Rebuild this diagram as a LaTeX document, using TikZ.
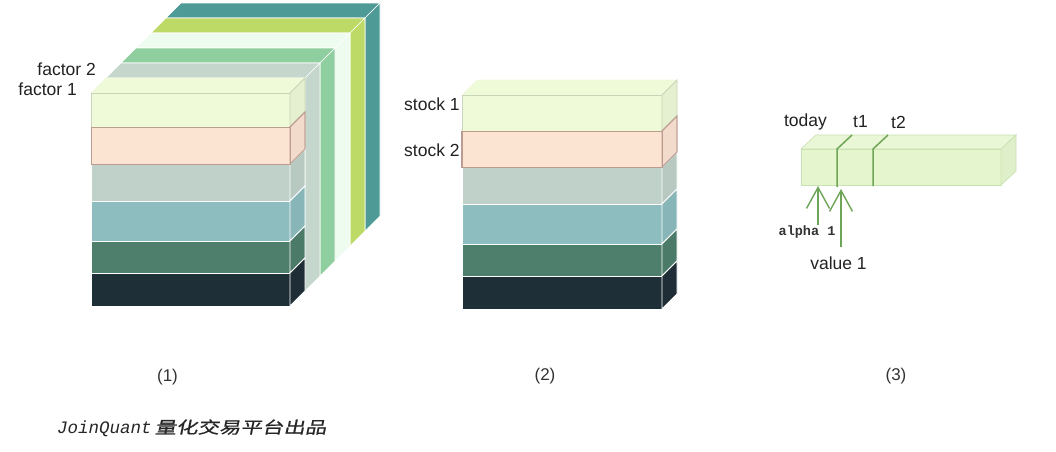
\documentclass[tikz,border=0pt]{standalone}
\usepackage{fontspec}
\setmainfont{Liberation Sans}
\newfontfamily\monofont{Liberation Mono}
\newfontfamily\cjkfont[FakeSlant=0.2,FakeStretch=1.3,FakeBold=0.6]{Noto Sans CJK SC}
\usetikzlibrary{arrows.meta}
\definecolor{cTeal}{HTML}{4E9A97}
\definecolor{cYgreen}{HTML}{BDD966}
\definecolor{cMint}{HTML}{EEFBEF}
\definecolor{cMgreen}{HTML}{8FCE9F}
\definecolor{cGgreen}{HTML}{C5D6CC}
\definecolor{cLight}{HTML}{EEFAD8}
\definecolor{cPeach}{HTML}{FCE4D2}
\definecolor{cPeachB}{HTML}{BC9C90}
\definecolor{cGrey}{HTML}{BFD1C9}
\definecolor{cBlue}{HTML}{8EBDC0}
\definecolor{cDgreen}{HTML}{4E7F6D}
\definecolor{cNavy}{HTML}{1F2F38}
\definecolor{cBar}{HTML}{E5F6CF}
\definecolor{cBarB}{HTML}{C9E2B2}
\definecolor{cLine}{HTML}{6EA557}
\definecolor{cText}{HTML}{222222}
\newcommand\myslab[6]{% x0,x1,ytop,ybot,fill,stroke
  \filldraw[fill=#5,draw=#6,line width=0.8pt] (#1,#3) rectangle (#2,#4);
  \filldraw[fill=#5!96!black,draw=#6,line width=0.8pt]
    (#2,#3) -- ({#2+15},{#3-15}) -- ({#2+15},{#4-15}) -- (#2,#4) -- cycle;
}
\newcommand\mytop[4]{% x0,x1,ytop,fill
  \filldraw[fill=#4,draw=#4!80!white,line width=0.6pt]
    (#1,#3) -- ({#1+15},{#3-15}) -- ({#2+15},{#3-15}) -- (#2,#3) -- cycle;
}
\tikzset{
  lbl/.style={font=\fontsize{17.5}{20}\selectfont, text=cText, inner sep=0pt},
  figcaption/.style={font=\fontsize{17}{20}\selectfont, text=black!80, inner sep=0pt},
  mono/.style={font=\monofont\bfseries\fontsize{13.5}{16}\selectfont, text=black!80, inner sep=0pt},
  arr/.style={draw=cLine, line width=1.4pt, -{Straight Barb[length=21pt,width=23pt,line width=1.4pt]}},
  divider/.style={draw=cLine, line width=1.5pt},
}
\begin{document}
\begin{tikzpicture}[x=1pt,y=-1pt]
\useasboundingbox[fill=white] (0,0) rectangle (1056,451);

% ---------- figure (1): back layers ----------
\foreach \k/\c in {5/cTeal,4/cYgreen,3/cMint,2/cMgreen,1/cGgreen}{
  \filldraw[fill=\c,draw=white,line width=0.6pt]
    ({91+15*\k},{93-15*\k}) -- ({106+15*\k},{78-15*\k}) -- ({305+15*\k},{78-15*\k}) -- ({290+15*\k},{93-15*\k}) -- cycle;
  \filldraw[fill=\c,draw=white,line width=0.6pt]
    ({290+15*\k},{93-15*\k}) -- ({305+15*\k},{78-15*\k}) -- ({305+15*\k},{291-15*\k}) -- ({290+15*\k},{306-15*\k}) -- cycle;
}
% front column
\mytop{91}{290}{93}{cLight}
\myslab{91}{290}{93}{127}{cLight}{cLight!85!black}
\myslab{91}{290}{127}{164}{cPeach}{cPeachB}
\myslab{91}{290}{164}{201}{cGrey}{white}
\myslab{91}{290}{201}{241}{cBlue}{white}
\myslab{91}{290}{241}{273}{cDgreen}{white}
\myslab{91}{290}{273}{306}{cNavy}{white}
\draw[cPeachB,line width=0.9pt] (91,127) rectangle (290,164);
\draw[cPeachB,line width=0.9pt] (290,127) -- (305,112) -- (305,149) -- (290,164);

\node[lbl,anchor=east] (f2) at (96,69) {factor 2};
\node[lbl,anchor=east] (f1) at (77,89) {factor 1};

% ---------- figure (2) ----------
\mytop{462}{662}{95}{cLight}
\myslab{462}{662}{95}{131}{cLight}{cLight!85!black}
\myslab{462}{662}{131}{167}{cPeach}{cPeachB}
\myslab{462}{662}{167}{204}{cGrey}{white}
\myslab{462}{662}{204}{244}{cBlue}{white}
\myslab{462}{662}{244}{276}{cDgreen}{white}
\myslab{462}{662}{276}{309}{cNavy}{white}
\draw[cPeachB,line width=0.9pt] (461,131) rectangle (662,167);
\draw[cPeachB,line width=0.9pt] (662,131) -- (677,116) -- (677,152) -- (662,167);

\node[lbl,anchor=west] (s1) at (404,104) {stock 1};
\node[lbl,anchor=west] (s2) at (404,150) {stock 2};

% ---------- figure (3) ----------
\filldraw[fill=cBar!85!white,draw=cBarB,line width=0.7pt]
  (801,149) -- (816,135) -- (1016,135) -- (1001,149) -- cycle;
\filldraw[fill=cBar,draw=cBarB,line width=0.7pt] (801,149) rectangle (1001,185);
\filldraw[fill=cBar!97!black,draw=cBarB,line width=0.7pt]
  (1001,149) -- (1016,135) -- (1016,171) -- (1001,185) -- cycle;
\draw[divider] (837,187) -- (837,149) -- (852,135);
\draw[divider] (873,186) -- (873,149) -- (888,135);

\node[lbl] (today) at (805.5,122) {today};
\node[lbl] (t1) at (860.5,122) {t1};
\node[lbl] (t2) at (898.5,122) {t2};

\node[mono] (alpha) at (807,232) {alpha 1};
\node[lbl] (value) at (838.5,263) {value 1};
\coordinate (a1) at (818,186);
\coordinate (a0) at (818,225);
\coordinate (v1) at (841,189);
\coordinate (v0) at (841,247);
\draw[arr] (a0) -- (a1);
\draw[arr] (v0) -- (v1);

% ---------- captions ----------
\node[figcaption] (c1) at (167.5,377) {(1)};
\node[figcaption] (c2) at (545,376) {(2)};
\node[figcaption] (c3) at (896,376) {(3)};

\node[anchor=west,inner sep=0pt,text=black!85] (brand) at (57,428)
  {{\monofont\itshape\fontsize{17.5}{20}\selectfont JoinQuant}\hspace{3pt}{\cjkfont\fontsize{16.5}{20}\selectfont 量化交易平台出品}};
\end{tikzpicture}
\end{document}
